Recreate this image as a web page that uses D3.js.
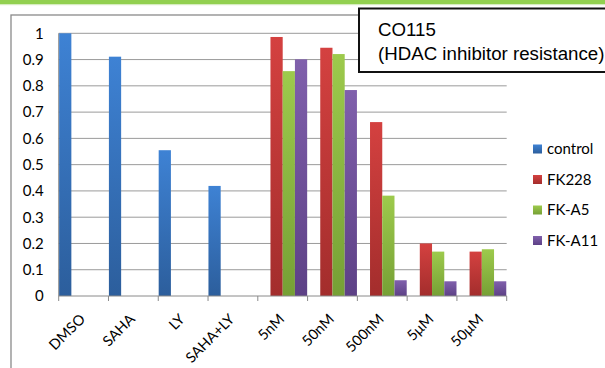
<!DOCTYPE html>
<html><head><meta charset="utf-8">
<script src="https://cdn.jsdelivr.net/npm/d3@7"></script>
<style>body{margin:0;background:#fff}svg{display:block}</style>
</head><body>
<svg id="c" width="605" height="368"></svg>
<script>
const categories = ["DMSO","SAHA","LY","SAHA+LY","5nM","50nM","500nM","5μM","50μM"];
const seriesNames = ["control","FK228","FK-A5","FK-A11"];
const control = [1.0,0.911,0.555,0.419,null,null,null,null,null];
const fk228  = [null,null,null,null,0.986,0.945,0.662,0.200,0.169];
const fka5   = [null,null,null,null,0.856,0.921,0.382,0.169,0.178];
const fka11  = [null,null,null,null,0.901,0.784,0.060,0.056,0.056];
const yTicks = [0,0.1,0.2,0.3,0.4,0.5,0.6,0.7,0.8,0.9,1];
const yTickLabels = ["0","0.1","0.2","0.3","0.4","0.5","0.6","0.7","0.8","0.9","1"];
const titleLines = ["CO115","(HDAC inhibitor resistance)"];

const seriesValues = [control, fk228, fka5, fka11];
const colors = [["#3e82d4","#2c5e9c"],["#d44140","#a32d2c"],["#9dca4c","#76a035"],["#8060ac","#5d4186"]];

const svg = d3.select("#c");
const defs = svg.append("defs");
colors.forEach((c,i)=>{
  const g = defs.append("linearGradient").attr("id","g"+i).attr("x1",0).attr("y1",0).attr("x2",0).attr("y2",1);
  g.append("stop").attr("offset","0%").attr("stop-color",c[0]);
  g.append("stop").attr("offset","100%").attr("stop-color",c[1]);
});

// top green band
svg.append("rect").attr("x",0).attr("y",0).attr("width",605).attr("height",4).attr("fill","#92d050");
svg.append("rect").attr("x",0).attr("y",4).attr("width",605).attr("height",1.2).attr("fill","#d6ecbf");

// chart frame
svg.append("rect").attr("x",11).attr("y",15).attr("width",610).attr("height",370)
  .attr("fill","none").attr("stroke","#8a8a8a").attr("stroke-width",1.3);

const x0 = 58.7, x1 = 506.7, yTop = 33.3, yBot = 296;
const x = d3.scaleBand().domain(categories).range([x0,x1]).paddingInner(0).paddingOuter(0);
const xs = d3.scaleBand().domain(seriesNames).range([0,x.bandwidth()]).paddingOuter(0.035).paddingInner(0);
const y = d3.scaleLinear().domain([0,1]).range([yBot,yTop]);

const labelFont = "Lato, 'Open Sans', sans-serif";

// gridlines
svg.append("g").selectAll("line").data(yTicks.slice(1)).join("line")
  .attr("x1",x0).attr("x2",x1).attr("y1",d=>y(d)).attr("y2",d=>y(d))
  .attr("stroke","#9a9a9a").attr("stroke-width",1);

// y axis
const yAxis = svg.append("g").attr("transform",`translate(${x0},0)`)
  .call(d3.axisLeft(y).tickValues(yTicks).tickFormat((d,i)=>yTickLabels[i]).tickSize(5).tickPadding(10));
yAxis.select(".domain").attr("stroke","#8a8a8a").attr("d",`M0,${yBot}V${yTop}`);
yAxis.selectAll(".tick line").attr("stroke","none");
yAxis.selectAll("text").attr("font-family",labelFont).attr("font-size","15px").attr("fill","#000");

// bars
seriesValues.forEach((vals,si)=>{
  svg.append("g").selectAll("rect")
    .data(categories.map((c,i)=>({c,v:vals[i]})).filter(d=>d.v!=null)).join("rect")
    .attr("x",d=>x(d.c)+xs(seriesNames[si]))
    .attr("width",xs.bandwidth())
    .attr("y",d=>y(d.v))
    .attr("height",d=>yBot-y(d.v))
    .attr("fill",`url(#g${si})`);
});

// x axis
const xAxis = svg.append("g").attr("transform",`translate(0,${yBot})`)
  .call(d3.axisBottom(x).tickSize(0).tickFormat(""));
xAxis.select(".domain").attr("stroke","#8a8a8a").attr("d",`M${x0},0H${x1}`);
const bounds = categories.map(c=>x(c)).concat([x1]);
svg.append("g").selectAll("line").data(bounds).join("line")
  .attr("x1",d=>d).attr("x2",d=>d).attr("y1",yBot).attr("y2",yBot+5)
  .attr("stroke","#8a8a8a");
svg.append("g").selectAll("text").data(categories).join("text")
  .attr("transform",d=>`translate(${x(d)+x.bandwidth()/2+2.5},${yBot+24}) rotate(-45)`)
  .attr("text-anchor","end")
  .attr("font-family",labelFont).attr("font-size","14.5px")
  .text(d=>d);

// legend
const lg = svg.append("g");
seriesNames.forEach((n,i)=>{
  const cy = 149 + i*30.5;
  lg.append("rect").attr("x",533).attr("y",cy-4.5).attr("width",9).attr("height",9).attr("fill",`url(#g${i})`);
  lg.append("text").attr("x",547).attr("y",cy+5).attr("font-family",labelFont)
    .attr("font-size","15px").text(n);
});

// title box
svg.append("rect").attr("x",359).attr("y",8.5).attr("width",260).attr("height",63.5)
  .attr("fill","#fff").attr("stroke","#111").attr("stroke-width",2);
svg.append("text").attr("x",378).attr("y",36).attr("font-family","'Liberation Sans', Arial, sans-serif")
  .attr("font-size","18.7px").text(titleLines[0]);
svg.append("text").attr("x",378).attr("y",60).attr("font-family","'Liberation Sans', Arial, sans-serif")
  .attr("font-size","18.7px").text(titleLines[1]);
</script>
</body></html>
